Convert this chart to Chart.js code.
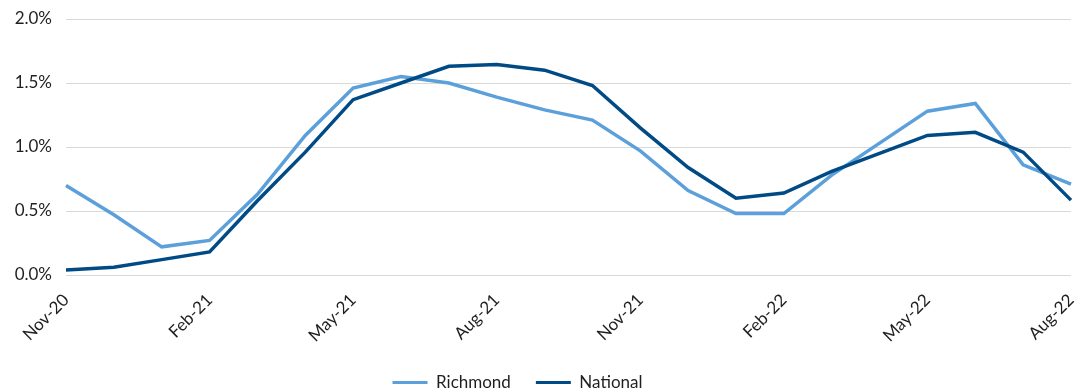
<!DOCTYPE html>
<html>
<head>
<meta charset="utf-8">
<script src="https://cdn.jsdelivr.net/npm/chart.js@4"></script>
<style>
  html, body { margin: 0; padding: 0; background: #fff; }
  #wrap { width: 1076px; height: 392px; position: relative; }
</style>
</head>
<body>
<div id="wrap"><canvas id="rateChart"></canvas></div>
<script>
// monthly, Nov-20 .. Aug-22
var months = ['Nov-20', 'Dec-20', 'Jan-21', 'Feb-21', 'Mar-21', 'Apr-21', 'May-21', 'Jun-21',
  'Jul-21', 'Aug-21', 'Sep-21', 'Oct-21', 'Nov-21', 'Dec-21', 'Jan-22', 'Feb-22',
  'Mar-22', 'Apr-22', 'May-22', 'Jun-22', 'Jul-22', 'Aug-22'];

var richmond = [0.70, 0.47, 0.22, 0.27, 0.63, 1.09, 1.46, 1.55, 1.50, 1.39, 1.29, 1.21,
  0.97, 0.66, 0.48, 0.48, 0.78, 1.03, 1.28, 1.34, 0.86, 0.71];

var national = [0.04, 0.06, 0.12, 0.18, 0.58, 0.96, 1.37, 1.50, 1.63, 1.645, 1.60, 1.48,
  1.15, 0.84, 0.60, 0.64, 0.81, 0.95, 1.09, 1.115, 0.96, 0.585];

var yTicks = [0, 0.5, 1.0, 1.5, 2.0];

(function() {
  'use strict';

  var inkColor  = '#1f1f1f',
      gridColor = '#d9d9d9',
      fontFace  = "Lato, 'Open Sans', sans-serif";

  //  nudge the legend a bit left so it sits under the plot centre
  var legendShift = {
    id: 'legendShift',
    afterLayout: function(c) {
      if (c.legend) {
        c.legend.left  -= 18;
        c.legend.right -= 18;
      }
    }
  };

  var ctx = document.getElementById('rateChart').getContext('2d');

  var chart = new Chart(ctx, {
    type: 'line',
    plugins: [legendShift],
    data: {
      labels: months,
      datasets: [{
        label: 'Richmond',
        data: richmond,
        borderColor: '#5BA0DA',
        backgroundColor: '#5BA0DA',
        borderWidth: 3.5,
        pointRadius: 0,
        tension: 0,
        order: 1
      }, {
        label: 'National',
        data: national,
        borderColor: '#004B85',
        backgroundColor: '#004B85',
        borderWidth: 3.5,
        pointRadius: 0,
        tension: 0,
        order: 0
      }]
    },
    options: {
      responsive: true,
      maintainAspectRatio: false,
      animation: false,
      layout: {
        padding: { top: 19, right: 5, bottom: 0, left: 0 }
      },
      plugins: {
        tooltip: { enabled: false },
        legend: {
          position: 'bottom',
          maxHeight: 43,
          labels: {
            color: inkColor,
            font: { family: fontFace, size: 17 },
            boxWidth: 35,
            boxHeight: 3,
            padding: 25,
            generateLabels: function(c) {
              return c.data.datasets.map(function(ds, i) {
                return {
                  text: ds.label,
                  fillStyle: ds.borderColor,
                  strokeStyle: ds.borderColor,
                  lineWidth: 0,
                  fontColor: inkColor,
                  datasetIndex: i
                };
              });
            }
          }
        }
      },
      scales: {
        x: {
          grid: { display: false, drawTicks: false },
          border: { display: false },
          ticks: {
            color: inkColor,
            font: { family: fontFace, size: 17 },
            autoSkip: false,
            minRotation: 45,
            maxRotation: 45,
            padding: 15,
            callback: function(value, index) {
              return index % 3 === 0 ? this.getLabelForValue(value) : '';
            }
          },
          afterFit: function(scale) {
            scale.height = 74;
            scale.paddingLeft = 0;
            scale.paddingRight = 0;
          }
        },
        y: {
          min: 0,
          max: 2,
          afterBuildTicks: function(scale) {
            scale.ticks = yTicks.map(function(v) { return { value: v }; });
          },
          grid: { color: gridColor, lineWidth: 1, drawTicks: false },
          border: { display: false },
          ticks: {
            color: inkColor,
            font: { family: fontFace, size: 17 },
            padding: 14,
            callback: function(value) {
              return value.toFixed(1) + '%';
            }
          },
          afterFit: function(scale) {
            scale.width = 66;
            scale.paddingTop = 0;
            scale.paddingBottom = 0;
          }
        }
      }
    }
  });
})();
</script>
</body>
</html>
